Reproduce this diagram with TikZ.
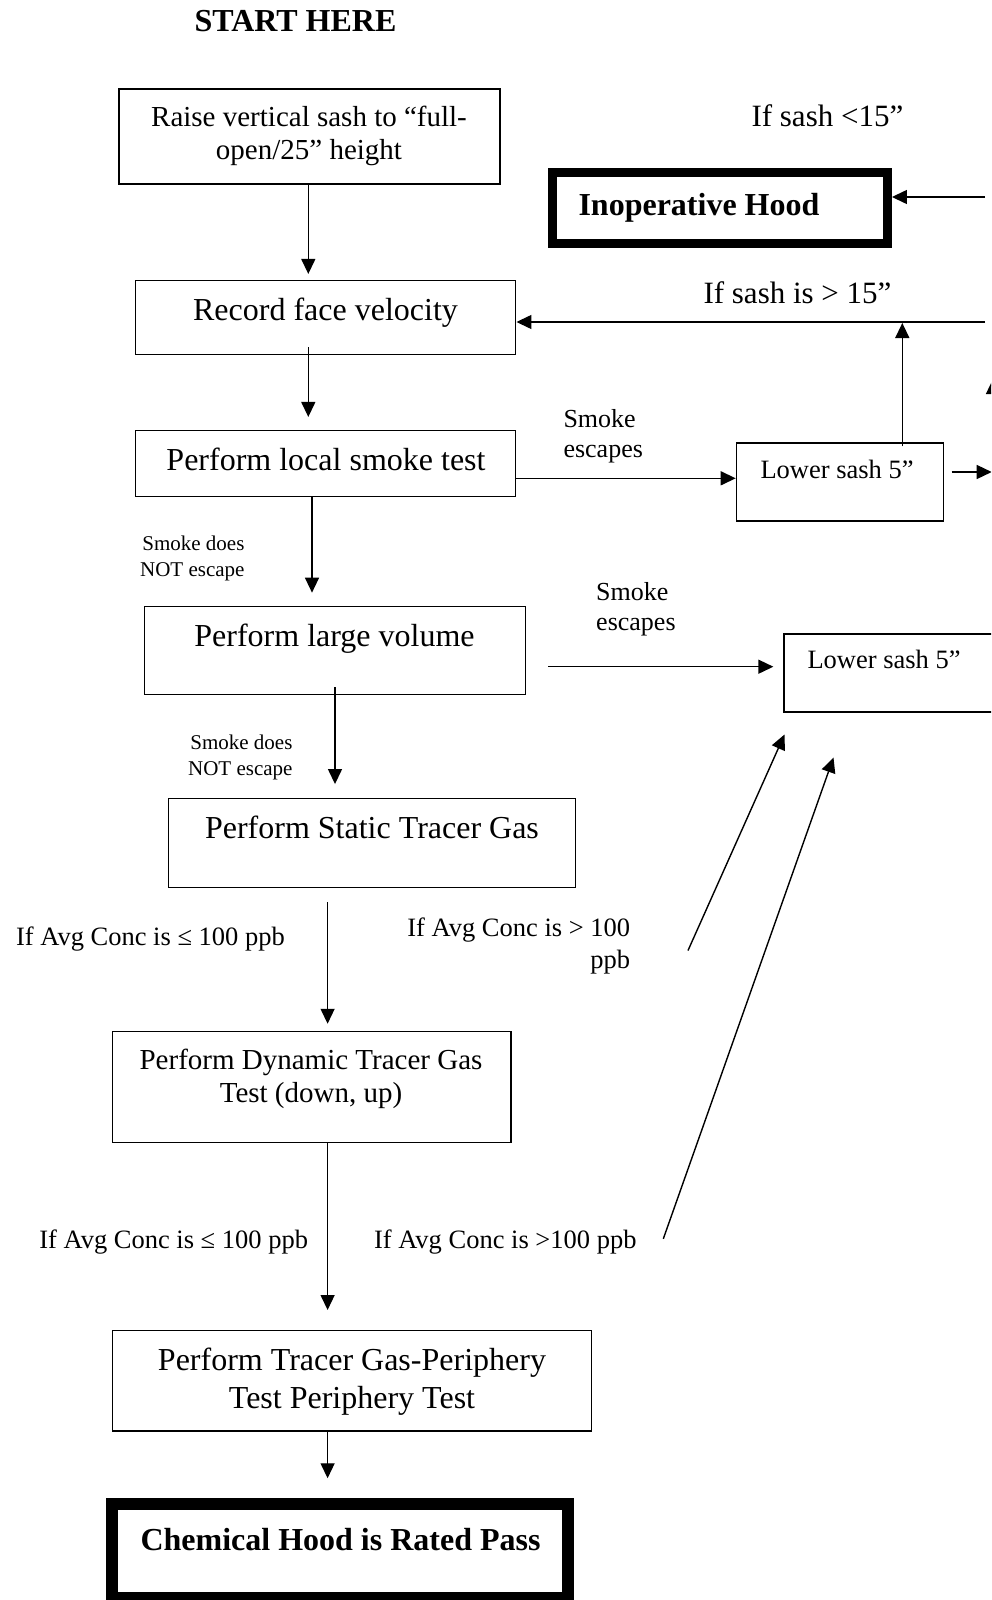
\documentclass[tikz,border=0pt]{standalone}
\usepackage{fontspec}
\setmainfont{Liberation Serif}
\usetikzlibrary{arrows.meta}

\tikzset{
  box/.style={draw, line width=1.3pt, inner sep=0pt},
  heavybox/.style={draw, line width=8.5pt, inner sep=0pt},
  arr/.style={line width=1.4pt, -{Triangle[length=15pt,width=14pt]}},
  boxtext/.style={font=\fontsize{32}{38}\selectfont, align=center, anchor=base},
  boxtextsm/.style={font=\fontsize{29}{33.5}\selectfont, align=center, anchor=base},
  condlabel/.style={font=\fontsize{26.5}{31.5}\selectfont, anchor=base west},
  escnote/.style={font=\fontsize{26}{29.8}\selectfont, align=left, anchor=base west},
  sashlabel/.style={font=\fontsize{31}{36}\selectfont, anchor=base west},
  smallnote/.style={font=\fontsize{21}{26.5}\selectfont, align=right, anchor=base east},
  heading/.style={font=\fontsize{32}{38}\selectfont\bfseries, anchor=base},
}

\begin{document}
\begin{tikzpicture}[x=1pt,y=-1pt]
  \useasboundingbox (0,0) rectangle (991,1600);
  \clip (0,0) rectangle (991,1600);

  % heading
  \node[heading] (start) at (295.5,32) {START HERE};

  % main column boxes (multi-line text sits on the baseline of its last line)
  \node[box, minimum width=381pt, minimum height=95pt] (raise) at (309.5,136.5) {};
  \node[boxtextsm] (raisetxt) at (309,160) {Raise vertical sash to “full-\\open/25” height};

  \node[box, minimum width=380pt, minimum height=74pt] (record) at (325.8,317.6) {};
  \node[boxtext] (recordtxt) at (325.5,320) {Record face velocity};

  \node[box, minimum width=380pt, minimum height=66pt] (local) at (325.8,463.6) {};
  \node[boxtext] (localtxt) at (326,470) {Perform local smoke test};

  \node[box, minimum width=381pt, minimum height=88pt] (large) at (334.7,650.8) {};
  \node[boxtext] (largetxt) at (334.5,646) {Perform large volume};

  \node[box, minimum width=407pt, minimum height=88.6pt] (static) at (371.8,843) {};
  \node[boxtext] (statictxt) at (372,838) {Perform Static Tracer Gas};

  \node[box, minimum width=398.6pt, minimum height=111pt] (dynamic) at (311.6,1086.9) {};
  \node[boxtextsm] (dynamictxt) at (311,1102.5) {Perform Dynamic Tracer Gas\\Test (down, up)};

  \node[box, minimum width=479pt, minimum height=100.3pt] (periphery) at (351.8,1380.8) {};
  \node[boxtext] (peripherytxt) at (352,1408) {Perform Tracer Gas-Periphery\\Test Periphery Test};

  \node[heavybox, line width=12pt, minimum width=456.3pt, minimum height=93.5pt] (pass) at (340.2,1551) {};
  \node[heading] (passtxt) at (340.5,1550) {Chemical Hood is Rated Pass};

  % right side boxes
  \node[heavybox, minimum width=335.4pt, minimum height=71.4pt] (inop) at (720,208) {};
  \node[heading, anchor=base west] (inoptxt) at (575,215) {Inoperative Hood};

  \node[box, minimum width=207.3pt, minimum height=78pt] (sash1) at (840,482) {};
  \node[condlabel] (sash1txt) at (757,478) {Lower sash 5”};

  \node[box, minimum width=216pt, minimum height=78pt] (sash2) at (892,673) {};
  \node[condlabel] (sash2txt) at (804,668.5) {Lower sash 5”};

  % labels
  \node[sashlabel] (sashlow) at (748,127) {If sash <15”};
  \node[sashlabel] (sashhigh) at (700,303) {If sash is > 15”};
  \node[escnote] (esc1) at (560,457.5) {Smoke\\escapes};
  \node[escnote] (esc2) at (592.7,630) {Smoke\\escapes};
  \node[smallnote] (noesc1) at (248,576.7) {Smoke does\\NOT escape};
  \node[smallnote] (noesc2) at (296,775.5) {Smoke does\\NOT escape};
  \node[condlabel] (leq1) at (12.6,945) {If Avg Conc is ≤ 100 ppb};
  \node[condlabel, anchor=base east, align=right] (gt1) at (633.7,968) {If Avg Conc is > 100\\ppb};
  \node[condlabel] (leq2) at (35.8,1248) {If Avg Conc is ≤ 100 ppb};
  \node[condlabel] (gt2) at (370.5,1248) {If Avg Conc is >100 ppb};

  % main column arrows
  \coordinate (colA) at (308.3,0);
  \coordinate (colB) at (312,0);
  \coordinate (colC) at (335,0);
  \coordinate (colD) at (327.6,0);
  \draw[arr, shorten >=6pt] (raise.south -| colA) -- (record.north -| colA);
  \draw[arr, shorten <=-8pt, shorten >=13pt] (record.south -| colA) -- (local.north -| colA);
  \draw[arr, shorten >=13.5pt] (local.south -| colB) -- (large.north -| colB);
  \draw[arr, shorten <=-8pt, shorten >=14pt] (large.south -| colC) -- (static.north -| colC);
  \draw[arr, shorten <=14.5pt, shorten >=7pt] (static.south -| colD) -- (dynamic.north -| colD);
  \draw[arr, shorten >=20pt] (dynamic.south -| colD) -- (periphery.north -| colD);
  \draw[arr, shorten >=20pt] (periphery.south -| colD) -- (pass.north -| colD);

  % smoke escapes
  \coordinate (esc1out) at (0,478.3);
  \draw[arr] (local.east |- esc1out) -- (sash1.west |- esc1out);
  \coordinate (esc2out) at (548.3,666.7);
  \draw[arr, shorten >=10pt] (esc2out) -- (sash2.west |- esc2out);

  % return to record face velocity
  \coordinate (retline) at (985,322);
  \coordinate (colE) at (902.3,0);
  \draw[arr] (retline) -- (record.east |- retline);
  \draw[arr, shorten <=-4pt, shorten >=1pt] (sash1.north -| colE) -- (retline -| colE);

  % inoperative hood
  \coordinate (inopin) at (985,197);
  \draw[arr] (inopin) -- (inop.east |- inopin);

  % arrows leaving the right edge
  \coordinate (sash1out) at (951.7,472);
  \draw[arr] (sash1out) -- ++(40,0);
  \coordinate (offup) at (993,379);
  \draw[arr] (993,470) -- (offup);

  % tracer gas failures
  \coordinate (gtA) at (688,950.5);
  \coordinate (tipA) at (784.5,734.5);
  \coordinate (gtB) at (663.3,1238.8);
  \coordinate (tipB) at (833.5,757.5);
  \draw[arr] (gtA) -- (tipA);
  \draw[arr] (gtB) -- (tipB);
\end{tikzpicture}
\end{document}
